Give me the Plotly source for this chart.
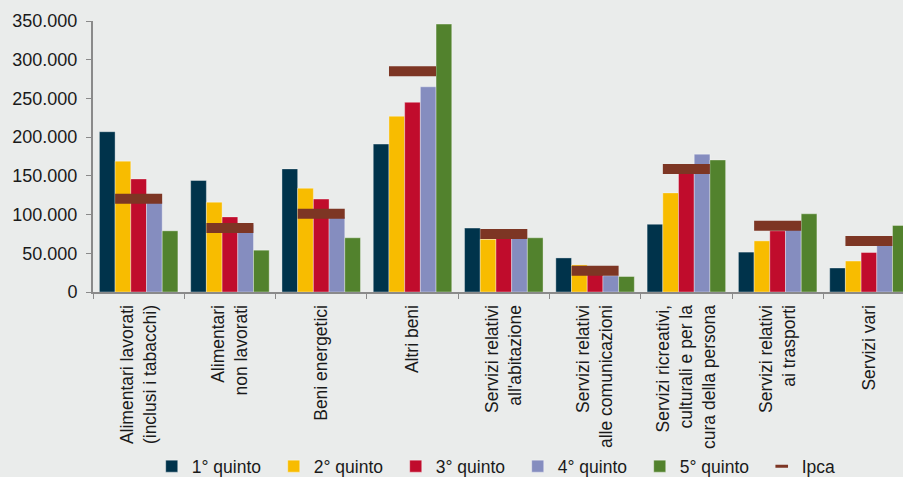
import plotly.graph_objects as go

categories = [
    "Alimentari lavorati<br>(inclusi i tabacchi)",
    "Alimentari<br>non lavorati",
    "Beni energetici",
    "Altri beni",
    "Servizi relativi<br>all'abitazione",
    "Servizi relativi<br>alle comunicazioni",
    "Servizi ricreativi,<br>culturali e per la<br>cura della persona",
    "Servizi relativi<br>ai trasporti",
    "Servizi vari",
]

q1 = [207000, 144000, 159000, 191000, 82500, 44000, 87500, 51500, 31000]
q2 = [169000, 116000, 134000, 227000, 68000, 35000, 128000, 66000, 40000]
q3 = [146000, 97000, 120000, 245000, 70000, 23000, 155000, 79000, 51000]
q4 = [117000, 87000, 97000, 265000, 70000, 21000, 178000, 82000, 60000]
q5 = [79000, 54000, 70000, 346000, 70000, 20000, 170500, 101000, 86000]
ipca = [120500, 82500, 101000, 285000, 75000, 27500, 159000, 85500, 66000]

series_names = ["1° quinto", "2° quinto", "3° quinto", "4° quinto", "5° quinto"]
series_values = [q1, q2, q3, q4, q5]
series_colors = ["#00334B", "#F8BC00", "#C00C2C", "#858DBF", "#52822D"]
ipca_color = "#7D3624"

FONT = "Liberation Sans, Arial, sans-serif"
TXT = "#1a1a1a"

fig = go.Figure()
for name, vals, col in zip(series_names, series_values, series_colors):
    fig.add_trace(go.Bar(
        x=categories, y=vals, name=name,
        marker=dict(color=col, line=dict(color="rgba(255,255,255,0.35)", width=1)),
    ))

# Ipca markers (legend handled by a proxy entry with a smaller glyph)
fig.add_trace(go.Scatter(
    x=categories, y=ipca, name="Ipca", mode="markers", legendgroup="ipca", showlegend=False,
    marker=dict(symbol="line-ew", size=33.6, color=ipca_color,
                line=dict(color=ipca_color, width=10)),
))
fig.add_trace(go.Scatter(
    x=[None], y=[None], name="Ipca", mode="markers", legendgroup="ipca", showlegend=True,
    marker=dict(symbol="line-ew", size=9, color=ipca_color,
                line=dict(color=ipca_color, width=3)),
))

fig.update_layout(
    width=903, height=477,
    margin=dict(l=93, r=0, t=21, b=185, autoexpand=False),
    paper_bgcolor="#EAECEB", plot_bgcolor="#EAECEB",
    barmode="group", bargap=0.14, bargroupgap=0,
    separators=",.",
    font=dict(family=FONT, color=TXT, size=17),
    showlegend=True,
    legend=dict(orientation="h", x=0.0725, xanchor="left", y=-0.643, yanchor="middle",
                font=dict(family=FONT, size=17.5, color=TXT),
                entrywidth=77, entrywidthmode="pixels",
                bgcolor="rgba(0,0,0,0)", traceorder="normal"),
)

fig.update_xaxes(
    type="category", range=[-0.5, 8.373], automargin=False,
    showline=True, linecolor="#8A8A8A", linewidth=2,
    ticks="outside", tickson="boundaries", ticklen=5, tickcolor="#8A8A8A", tickwidth=1,
    tickangle=-90, tickfont=dict(family=FONT, size=17.5, color=TXT),
    ticklabelstandoff=4,
    showgrid=False, zeroline=False,
)
fig.update_yaxes(
    range=[0, 350000], tickvals=[0, 50000, 100000, 150000, 200000, 250000, 300000, 350000],
    tickformat=",d", automargin=False,
    showline=True, linecolor="#8A8A8A", linewidth=2,
    ticks="outside", ticklen=5, tickcolor="#8A8A8A", tickwidth=1,
    tickfont=dict(family=FONT, size=18, color=TXT),
    ticklabelstandoff=5,
    showgrid=False, zeroline=False,
)

fig.write_html("out.html", config={"displayModeBar": False},
               post_script="document.body.style.margin='0';")
